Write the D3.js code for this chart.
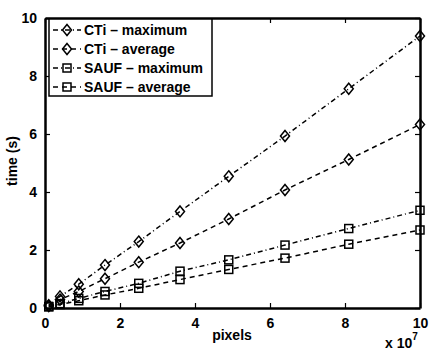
<!DOCTYPE html>
<html>
<head>
<meta charset="utf-8">
<script src="https://cdn.jsdelivr.net/npm/d3@7"></script>
<style>
  body { margin: 0; background: #fff; }
  svg { display: block; font-family: "Liberation Sans", Arial, sans-serif; font-weight: bold; }
</style>
</head>
<body>
<script>
// pixels (x 10^7)
var pixels = [0.1, 0.4, 0.9, 1.6, 2.5, 3.6, 4.9, 6.4, 8.1, 10];

// time (s)
var ctiMax  = [0.1, 0.4, 0.82, 1.48, 2.29, 3.33, 4.54, 5.93, 7.56, 9.38];
var ctiAvg  = [0.07, 0.29, 0.57, 1.01, 1.58, 2.24, 3.07, 4.07, 5.12, 6.33];
var saufMax = [0.05, 0.15, 0.33, 0.57, 0.85, 1.27, 1.66, 2.17, 2.74, 3.37];
var saufAvg = [0.04, 0.12, 0.25, 0.45, 0.68, 0.98, 1.33, 1.72, 2.2, 2.69];

var xTicks = [0, 2, 4, 6, 8, 10];
var yTicks = [0, 2, 4, 6, 8, 10];

var series = [
  {name: "CTi \u2013 maximum",  values: ctiMax,  dash: "5,3,1,3", marker: "diamond"},
  {name: "CTi \u2013 average",  values: ctiAvg,  dash: "5,4",     marker: "diamond"},
  {name: "SAUF \u2013 maximum", values: saufMax, dash: "5,3,1,3", marker: "square"},
  {name: "SAUF \u2013 average", values: saufAvg, dash: "5,4",     marker: "square"}
];

var width = 429,
    height = 350;

var x = d3.scaleLinear().domain([0, 10]).range([45, 420]);
var y = d3.scaleLinear().domain([0, 10]).range([308, 18]);

var svg = d3.select("body").append("svg")
    .attr("width", width)
    .attr("height", height);

function drawMarker(g, type, cx, cy) {
  if (type === "diamond") {
    g.append("path")
        .attr("d", "M" + cx + "," + (cy - 5.5) + "L" + (cx + 4.5) + "," + cy +
                   "L" + cx + "," + (cy + 5.5) + "L" + (cx - 4.5) + "," + cy + "Z")
        .attr("fill", "none")
        .attr("stroke", "#000")
        .attr("stroke-width", 1.5);
  } else {
    g.append("rect")
        .attr("x", cx - 4).attr("y", cy - 4)
        .attr("width", 8).attr("height", 8)
        .attr("fill", "none")
        .attr("stroke", "#000")
        .attr("stroke-width", 1.5);
  }
}

// lines
var line = d3.line()
    .x(function(d) { return x(d[0]); })
    .y(function(d) { return y(d[1]); });

var plot = svg.append("g");

series.forEach(function(s) {
  var pts = pixels.map(function(p, i) { return [p, s.values[i]]; });
  plot.append("path")
      .datum(pts)
      .attr("d", line)
      .attr("fill", "none")
      .attr("stroke", "#000")
      .attr("stroke-width", 1.5)
      .attr("stroke-dasharray", s.dash);
  pts.forEach(function(d) { drawMarker(plot, s.marker, x(d[0]), y(d[1])); });
});

// axes, ticks inward on all four sides
svg.append("g")
    .attr("transform", "translate(0," + y(0) + ")")
    .call(d3.axisBottom(x).tickValues(xTicks).tickSizeInner(-5).tickSizeOuter(0).tickPadding(10));
svg.append("g")
    .attr("transform", "translate(0," + y(10) + ")")
    .call(d3.axisTop(x).tickValues(xTicks).tickSizeInner(-5).tickSizeOuter(0).tickFormat(""));
svg.append("g")
    .attr("transform", "translate(" + x(0) + ",0)")
    .call(d3.axisLeft(y).tickValues(yTicks).tickSizeInner(-5).tickSizeOuter(0).tickPadding(8));
svg.append("g")
    .attr("transform", "translate(" + x(10) + ",0)")
    .call(d3.axisRight(y).tickValues(yTicks).tickSizeInner(-5).tickSizeOuter(0).tickFormat(""));

svg.selectAll(".domain").attr("stroke", "#000").attr("stroke-width", 2.5);
svg.selectAll(".tick line").attr("stroke", "#000").attr("stroke-width", 1.2);
svg.selectAll(".tick text")
    .attr("fill", "#000")
    .style("font-size", "14px")
    .style("font-weight", "bold")
    .style("font-family", "'Liberation Sans', Arial, sans-serif");

// axis labels
svg.append("text")
    .attr("x", 232).attr("y", 340)
    .attr("text-anchor", "middle")
    .style("font-size", "14px")
    .text("pixels");

svg.append("text")
    .attr("transform", "translate(17,161) rotate(-90)")
    .attr("text-anchor", "middle")
    .style("font-size", "14px")
    .text("time (s)");

var expo = svg.append("text")
    .attr("x", 385).attr("y", 348)
    .style("font-size", "14px");
expo.append("tspan").text("x 10");
expo.append("tspan").attr("dy", -8).style("font-size", "10px").text("7");

// legend
var legend = svg.append("g");
legend.append("rect")
    .attr("x", 49).attr("y", 19)
    .attr("width", 163).attr("height", 77)
    .attr("fill", "#fff")
    .attr("stroke", "#000")
    .attr("stroke-width", 1.5);

series.forEach(function(s, i) {
  var ly = 30 + i * 19;
  legend.append("line")
      .attr("x1", 53).attr("x2", 81)
      .attr("y1", ly).attr("y2", ly)
      .attr("stroke", "#000")
      .attr("stroke-width", 1.5)
      .attr("stroke-dasharray", s.dash);
  drawMarker(legend, s.marker, 67, ly);
  legend.append("text")
      .attr("x", 84).attr("y", ly + 5)
      .style("font-size", "14px")
      .text(s.name);
});
</script>
</body>
</html>
